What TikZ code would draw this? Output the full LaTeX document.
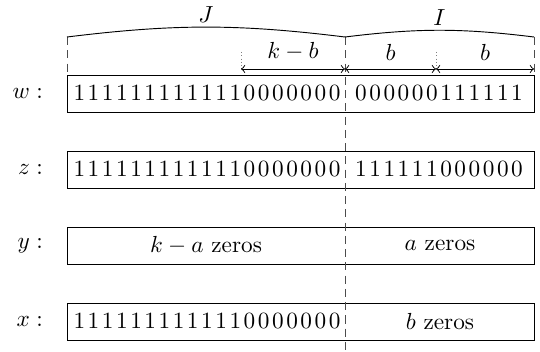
\documentclass[tikz,border=0pt]{standalone}
\usepackage{amsmath}
\usepackage{tikz}
\usetikzlibrary{positioning}

\makeatletter
\newcommand\bits[1]{\@tfor\bt:=#1\do{\bt\kern1.1pt}\unkern}
\makeatother

\tikzset{
  bitbox/.style={draw, minimum width=200.8pt, minimum height=15.9pt, inner sep=0pt},
  rowname/.style={inner sep=0pt},
  cut/.style={dash pattern=on 3.5pt off 2.2pt, gray!60!black},
  guide/.style={densely dotted, gray},
  span/.style={<->, >=to},
}

\begin{document}
\begin{tikzpicture}[x=0.43pt, y=-0.43pt]
\useasboundingbox (0,0) rectangle (540,352);

% the four strings
\node[bitbox] (W) at (300.5,93.5) {};
\node[bitbox] (Z) at (300.5,169.5) {};
\node[bitbox] (Y) at (300.5,245.5) {};
\node[bitbox] (X) at (300.5,321.5) {};

\node[rowname, left=10pt of W] {$w:$};
\node[rowname, left=10pt of Z] {$z:$};
\node[rowname, left=10pt of Y] {$y:$};
\node[rowname, left=10pt of X] {$x:$};

\node (WJ) at (207,93.5) {\bits{1111111111110000000}};
\node (WI) at (439,93.5) {\bits{000000111111}};
\node (ZJ) at (207,169.5) {\bits{1111111111110000000}};
\node (ZI) at (439,169.5) {\bits{111111000000}};
\node (YJ) at (206,245.5) {$k-a$ zeros};
\node (YI) at (440,245.5) {$a$ zeros};
\node (XJ) at (207,321.5) {\bits{1111111111110000000}};
\node (XI) at (440,321.5) {$b$ zeros};

% J and I
\coordinate (JL) at (67,37);
\coordinate (JR) at (345,37);
\coordinate (IR) at (534,37);
\coordinate (JLb) at (67,75);
\coordinate (IRb) at (534,75);
\coordinate (MB) at (345,352);

\draw[cut] (JL) -- (JLb);
\draw[cut] (IR) -- (IRb);
\draw[cut] (JR) -- (MB);

\draw (JL) to[bend left=7] node[midway, above=-1.5pt] {$J$} (JR);
\draw (JR) to[bend left=7] node[midway, above=-1.5pt] {$I$} (IR);

% lengths
\coordinate (A) at (241,69);
\coordinate (M) at (345,69);
\coordinate (B) at (436,69);
\coordinate (R) at (534,69);
\coordinate (At) at (241,52);
\coordinate (Bt) at (436,52);

\draw[guide] (At) -- (A);
\draw[guide] (Bt) -- (B);

\draw[span] (A) -- node[above] {$k-b$} (M);
\draw[span] (M) -- node[above] {$b$} (B);
\draw[span] (B) -- node[above] {$b$} (R);
\end{tikzpicture}
\end{document}
